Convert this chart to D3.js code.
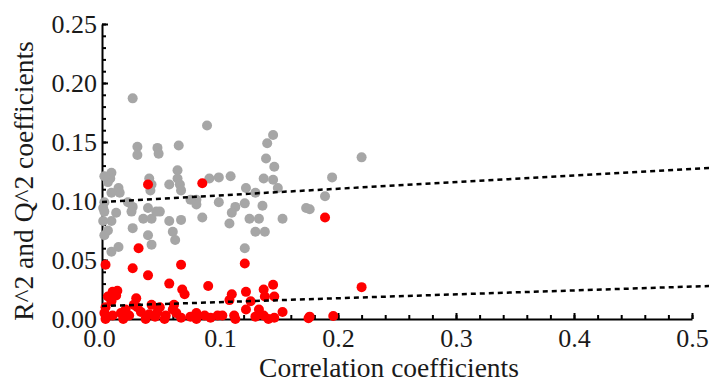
<!DOCTYPE html>
<html>
<head>
<meta charset="utf-8">
<script src="https://cdn.jsdelivr.net/npm/d3@7/dist/d3.min.js"></script>
<style>
  body { margin: 0; background: #fff; }
  text { font-family: "Liberation Serif", "Times New Roman", serif; }
</style>
</head>
<body>
<div id="chart"></div>
<script>
(function(d3) {
  'use strict';

  // R^2 coefficients (grey)
  var greyX = [0.026, 0.030, 0.030, 0.047, 0.048, 0.065, 0.008, 0.007, 0.005, 0.014,
    0.015, 0.008, 0.040, 0.042, 0.041, 0.064, 0.064, 0.057, 0.066, 0.067,
    0.002, 0.001, 0.002, 0.022, 0.026, 0.025, 0.039, 0.035, 0.042, 0.049,
    0.012, 0.008, 0.005, 0.002, 0.026, 0.057, 0.060, 0.067, 0.039, 0.042,
    0.062, 0.014, 0.008, 0.089, 0.145, 0.140, 0.139, 0.146, 0.091, 0.099,
    0.109, 0.137, 0.145, 0.149, 0.122, 0.130, 0.195, 0.189, 0.080, 0.080,
    0.099, 0.121, 0.113, 0.110, 0.136, 0.173, 0.176, 0.085, 0.125, 0.133,
    0.153, 0.108, 0.130, 0.138, 0.121, 0.220, 0.001, 0.002, 0.046, 0.075];
  var greyY = [0.187, 0.146, 0.139, 0.145, 0.140, 0.147, 0.124, 0.119, 0.116, 0.111,
    0.107, 0.107, 0.119, 0.114, 0.109, 0.126, 0.119, 0.114, 0.114, 0.109,
    0.099, 0.094, 0.091, 0.099, 0.095, 0.091, 0.094, 0.085, 0.085, 0.091,
    0.090, 0.083, 0.075, 0.071, 0.077, 0.083, 0.074, 0.084, 0.071, 0.063,
    0.067, 0.061, 0.057, 0.164, 0.156, 0.149, 0.136, 0.129, 0.119, 0.120,
    0.121, 0.119, 0.118, 0.111, 0.111, 0.107, 0.120, 0.104, 0.101, 0.097,
    0.099, 0.098, 0.095, 0.090, 0.096, 0.094, 0.093, 0.086, 0.085, 0.085,
    0.085, 0.081, 0.074, 0.074, 0.060, 0.137, 0.083, 0.121, 0.091, 0.101];

  // Q^2 coefficients (red)
  var redX = [0.031, 0.039, 0.085, 0.189, 0.121, 0.003, 0.026, 0.067, 0.039, 0.057,
    0.068, 0.070, 0.090, 0.009, 0.012, 0.005, 0.008, 0.029, 0.027, 0.042,
    0.049, 0.061, 0.002, 0.009, 0.016, 0.023, 0.033, 0.040, 0.047, 0.054,
    0.063, 0.067, 0.080, 0.087, 0.098, 0.003, 0.018, 0.037, 0.053, 0.080,
    0.145, 0.137, 0.138, 0.146, 0.122, 0.110, 0.108, 0.126, 0.122, 0.133,
    0.153, 0.137, 0.130, 0.112, 0.146, 0.175, 0.176, 0.196, 0.102, 0.113,
    0.141, 0.220, 0.013, 0.003, 0.020, 0.030, 0.045, 0.060, 0.075, 0.092];
  var redY = [0.060, 0.114, 0.115, 0.086, 0.047, 0.046, 0.043, 0.046, 0.037, 0.030,
    0.025, 0.021, 0.028, 0.023, 0.020, 0.019, 0.015, 0.0175, 0.012, 0.012,
    0.010, 0.012, 0.005, 0.003, 0.005, 0.003, 0.006, 0.004, 0.006, 0.003,
    0.005, 0.001, 0.005, 0.003, 0.003, 0.000, 0.000, 0.000, 0.000, 0.000,
    0.029, 0.025, 0.019, 0.019, 0.023, 0.021, 0.016, 0.015, 0.008, 0.008,
    0.006, 0.003, 0.002, 0.003, 0.001, 0.0006, 0.002, 0.0025, 0.003, 0.000,
    0.000, 0.027, 0.024, 0.010, 0.008, 0.010, 0.002, 0.008, 0.002, 0.001];

  // linear fits (dashed)
  var fitX = [0, 0.515];
  var fitGrey = [0.0992, 0.128];
  var fitRed = [0.011, 0.028];

  var xTicks = [0, 0.1, 0.2, 0.3, 0.4, 0.5];
  var yTicks = [0, 0.05, 0.10, 0.15, 0.20, 0.25];

  var width = 709;
  var height = 383;
  var left = 102, right = 692, top = 24, bottom = 319;

  var x = d3.scaleLinear().domain([0, 0.5]).range([left, right]);
  var y = d3.scaleLinear().domain([0, 0.25]).range([bottom, top]);

  var svg = d3.select('#chart')
    .append('svg')
    .attr('width', width)
    .attr('height', height);

  // minor ticks
  svg.append('g')
    .attr('transform', 'translate(0,' + bottom + ')')
    .call(d3.axisBottom(x).tickValues(d3.range(0, 0.501, 0.02)).tickSizeInner(-4).tickSizeOuter(0).tickFormat(''))
    .call(function(g) { g.select('.domain').remove(); })
    .selectAll('line').attr('stroke', '#000').attr('stroke-width', 2);
  svg.append('g')
    .attr('transform', 'translate(' + left + ',0)')
    .call(d3.axisLeft(y).tickValues(d3.range(0, 0.2501, 0.01)).tickSizeInner(-4).tickSizeOuter(0).tickFormat(''))
    .call(function(g) { g.select('.domain').remove(); })
    .selectAll('line').attr('stroke', '#000').attr('stroke-width', 2);

  // major axes
  var xAxis = svg.append('g')
    .attr('transform', 'translate(0,' + bottom + ')')
    .call(d3.axisBottom(x).tickValues(xTicks).tickSizeInner(-6).tickSizeOuter(0).tickPadding(10).tickFormat(d3.format('.1f')));
  var yAxis = svg.append('g')
    .attr('transform', 'translate(' + left + ',0)')
    .call(d3.axisLeft(y).tickValues(yTicks).tickSizeInner(-6).tickSizeOuter(0).tickPadding(5).tickFormat(d3.format('.2f')));

  [xAxis, yAxis].forEach(function(g) {
    g.select('.domain').attr('stroke', '#000').attr('stroke-width', 2);
    g.selectAll('.tick line').attr('stroke', '#000').attr('stroke-width', 2);
    g.selectAll('.tick text')
      .attr('fill', '#1a1a1a')
      .style('font-family', '"Liberation Serif", "Times New Roman", serif')
      .style('font-size', '26px');
  });
  // the first x label sits a little left of its tick, as in the original
  xAxis.selectAll('.tick text').filter(function(d) { return d === 0; }).attr('dx', -3);

  var grey = greyX.map(function(d, i) { return { x: d, y: greyY[i] }; });
  var red = redX.map(function(d, i) { return { x: d, y: redY[i] }; });

  svg.append('g').selectAll('circle')
    .data(grey)
    .enter()
    .append('circle')
    .attr('cx', function(d) { return x(d.x); })
    .attr('cy', function(d) { return y(d.y); })
    .attr('r', 5)
    .attr('fill', '#a6a6a6');

  svg.append('g').selectAll('circle')
    .data(red)
    .enter()
    .append('circle')
    .attr('cx', function(d) { return x(d.x); })
    .attr('cy', function(d) { return y(d.y); })
    .attr('r', 5)
    .attr('fill', '#ff0000');

  var line = d3.line()
    .x(function(d) { return x(d[0]); })
    .y(function(d) { return y(d[1]); });

  [fitGrey, fitRed].forEach(function(f) {
    svg.append('path')
      .datum(fitX.map(function(d, i) { return [d, f[i]]; }))
      .attr('d', line)
      .attr('fill', 'none')
      .attr('stroke', '#000')
      .attr('stroke-width', 2.5)
      .attr('stroke-dasharray', '5,4');
  });

  svg.append('text')
    .attr('x', (left + right) / 2 - 8)
    .attr('y', 377)
    .attr('text-anchor', 'middle')
    .style('font-size', '27.5px')
    .attr('fill', '#1a1a1a')
    .text('Correlation coefficients');

  svg.append('text')
    .attr('transform', 'translate(33,181) rotate(-90)')
    .attr('text-anchor', 'middle')
    .style('font-size', '27.5px')
    .attr('fill', '#1a1a1a')
    .text('R^2 and Q^2 coefficients');
})(window.d3);
</script>
</body>
</html>
